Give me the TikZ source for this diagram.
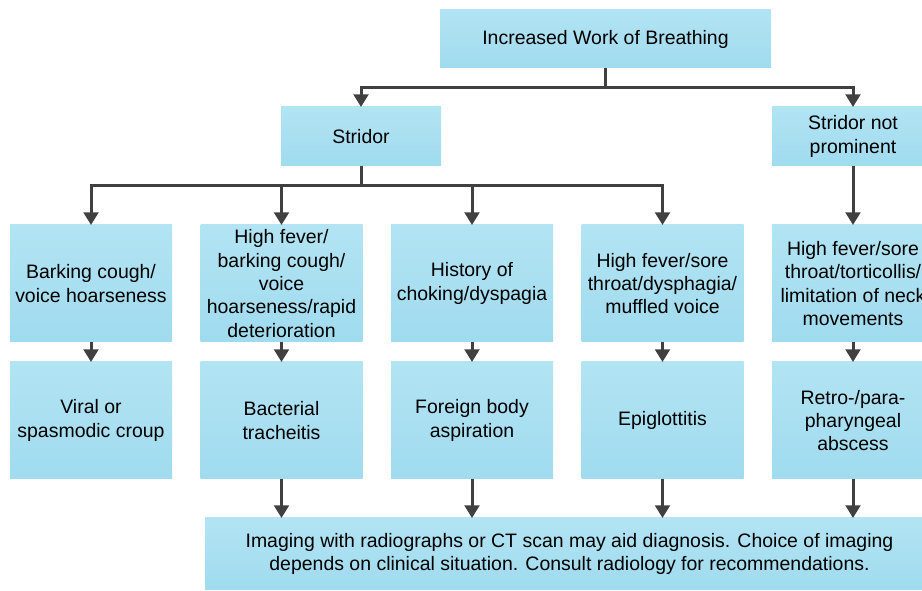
\documentclass[tikz,border=0pt]{standalone}
\usepackage{fontspec}
\setmainfont{Liberation Sans}
\usetikzlibrary{positioning,arrows.meta}
\definecolor{boxtop}{RGB}{178,228,243}
\definecolor{boxbot}{RGB}{160,219,239}
\definecolor{linegray}{RGB}{64,64,64}
\tikzset{
  flowbox/.style = {shape=rectangle, align=center, inner sep=0pt, outer sep=0pt,
                    top color=boxtop, bottom color=boxbot,
                    font=\fontsize{14.6}{17.5}\selectfont},
  cellbox/.style = {flowbox, minimum width=121.5pt, minimum height=87.75pt},
  headbox/.style = {flowbox, minimum width=248.25pt, minimum height=43.5pt},
  midbox/.style  = {flowbox, minimum width=120pt, minimum height=44.25pt},
  notebox/.style = {flowbox, minimum width=546.75pt, minimum height=54pt},
  link/.style    = {draw=linegray, line width=2.25pt},
  arr/.style     = {link, -{Triangle[width=11pt,length=9.5pt]}}
}

\begin{document}
\begin{tikzpicture}[x=0.75pt,y=-0.75pt]
\useasboundingbox (0,0) rectangle (922,591);
\clip (0,0) rectangle (922,591);

\node [headbox] (work) at (605.5,39) {Increased Work of Breathing};
\node [midbox] (strid) at (361,136.5) {Stridor};
\node [midbox, minimum width=121.5pt] (nostrid) at (853,136.5) {Stridor not\\prominent};

\node [cellbox, anchor=north west] (sign1) at (10,225) {Barking cough/\\voice hoarseness};
\node [cellbox, right=21.375pt of sign1] (sign2) {High fever/\\barking cough/\\voice\\hoarseness/rapid\\deterioration};
\node [cellbox, right=21.375pt of sign2] (sign3) {History of\\choking/dyspagia};
\node [cellbox, right=21.375pt of sign3] (sign4) {High fever/sore\\throat/dysphagia/\\muffled voice};
\node [cellbox, right=21.375pt of sign4] (sign5) {High fever/sore\\throat/torticollis/\\limitation of neck\\movements};

\node [cellbox, below=15pt of sign1] (diag1) {Viral or\\spasmodic croup};
\node [cellbox, below=15pt of sign2] (diag2) {Bacterial\\tracheitis};
\node [cellbox, below=15pt of sign3] (diag3) {Foreign body\\aspiration};
\node [cellbox, below=15pt of sign4] (diag4) {Epiglottitis};
\node [cellbox, below=15pt of sign5] (diag5) {Retro-/para-\\pharyngeal\\abscess};

\node [notebox, anchor=north west] (note) at (205,518)
  {Imaging with radiographs or CT scan may aid diagnosis. Choice of imaging\\
   depends on clinical situation. Consult radiology for recommendations.};

\coordinate (split1) at (605.5,88);
\coordinate (split2) at (361,186);
\draw [link] (work.south) -- (split1);
\draw [arr] (split1) -| (strid.north);
\draw [arr] (split1) -| (nostrid.north);
\draw [link] (strid.south) -- (split2);
\foreach \i in {1,...,4}
  \draw [arr] (split2) -| (sign\i.north);
\draw [arr] (nostrid.south) -- (sign5.north);
\foreach \i in {1,...,5}
  \draw [arr] (sign\i.south) -- (diag\i.north);
\foreach \i in {2,...,5}
  \draw [arr] (diag\i.south) -- (diag\i.south |- note.north);
\end{tikzpicture}
\end{document}
